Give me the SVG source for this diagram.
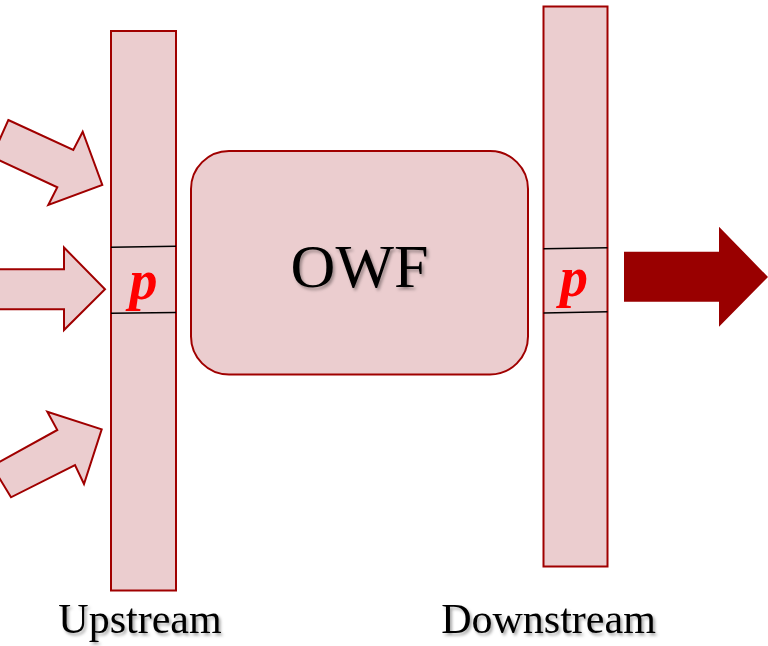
<svg xmlns="http://www.w3.org/2000/svg" width="768" height="646" viewBox="0 0 768 646">
  <defs>
    <filter id="shadow" x="-10%" y="-20%" width="130%" height="150%">
      <feDropShadow dx="2" dy="2.5" stdDeviation="1.5" flood-color="#000" flood-opacity="0.35"/>
    </filter>
  </defs>
  <style>
    .shape { fill: #EBCDCF; stroke: #A00000; stroke-width: 2; stroke-linejoin: miter; }
    .div { stroke: #000; stroke-width: 1.6; fill: none; }
    .lbl { font-family: "Liberation Serif", "Times New Roman", serif; fill: #000; }
    .p { font-family: "Liberation Serif", "Times New Roman", serif; font-style: italic; font-weight: bold; fill: #FF0000; }
  </style>
  <rect width="768" height="646" fill="#fff"/>

  <g id="connectors">
    <polygon id="arrow-in-top" class="shape" points="8.3,120 73.3,150 82.7,131.7 102.3,185 48.3,205 57.3,187.3 -8,157 "/>
    <polygon id="arrow-in-mid" class="shape" points="-2,269.3 64,269.3 64,247.5 105,289.3 64,330 64,309.3 -2,309.3"/>
    <polygon id="arrow-in-bot" class="shape" points="-8,466 57.3,430 47.3,411.7 101.7,429.3 84,484 75,465 11,497.3"/>
    <polygon id="arrow-out" fill="#990000" points="624,251.7 719,251.7 719,226.7 768,277 719,326.7 719,301.7 624,301.7"/>
  </g>

  <g id="upstream">
    <rect class="shape" x="111" y="31" width="65" height="559.5"/>
    <line class="div" x1="111" y1="247.2" x2="176" y2="246.2"/>
    <line class="div" x1="111" y1="313.2" x2="176" y2="312.5"/>
    <text class="p" x="143.5" y="298.5" font-size="56" text-anchor="middle">p</text>
    <text class="lbl" x="140" y="633" font-size="42" text-anchor="middle" filter="url(#shadow)">Upstream</text>
  </g>

  <g id="owf">
    <rect class="shape" x="191" y="151" width="337" height="223.5" rx="38" ry="38"/>
    <text class="lbl" x="359.5" y="286.5" font-size="62" text-anchor="middle" filter="url(#shadow)">OWF</text>
  </g>

  <g id="downstream">
    <rect class="shape" x="543.5" y="6.5" width="64" height="560"/>
    <line class="div" x1="543.5" y1="248.8" x2="607.5" y2="247.8"/>
    <line class="div" x1="543.5" y1="313" x2="607.5" y2="311.7"/>
    <text class="p" x="574" y="295.5" font-size="56" text-anchor="middle">p</text>
    <text class="lbl" x="548.5" y="633" font-size="42" text-anchor="middle" filter="url(#shadow)">Downstream</text>
  </g>
</svg>
